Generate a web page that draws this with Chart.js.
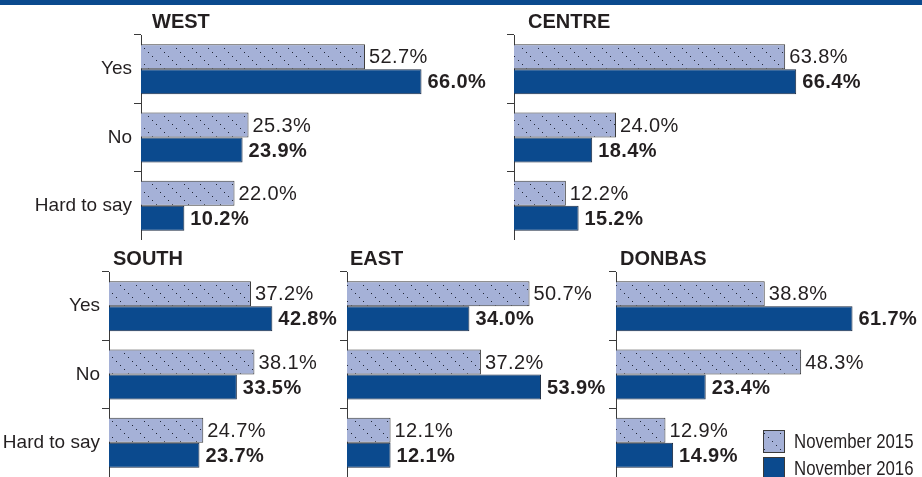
<!DOCTYPE html>
<html>
<head>
<meta charset="utf-8">
<script src="https://cdn.jsdelivr.net/npm/chart.js@4.4.0/dist/chart.umd.min.js"></script>
<style>
  body { margin: 0; background: #fff; width: 922px; height: 477px; overflow: hidden; position: relative; }
  #band { position: absolute; left: 0; top: 0; width: 922px; height: 5px; background: #0b4a8e; }
  canvas { position: absolute; }
</style>
</head>
<body>
<div id="band"></div>
<canvas id="west"></canvas>
<canvas id="centre"></canvas>
<canvas id="south"></canvas>
<canvas id="east"></canvas>
<canvas id="donbas"></canvas>
<script>
// données
const categories = ['Yes', 'No', 'Hard to say'];
const seriesNames = ['November 2015', 'November 2016'];

const west2015 = [52.7, 25.3, 22.0];
const west2016 = [66.0, 23.9, 10.2];
const centre2015 = [63.8, 24.0, 12.2];
const centre2016 = [66.4, 18.4, 15.2];
const south2015 = [37.2, 38.1, 24.7];
const south2016 = [42.8, 33.5, 23.7];
const east2015 = [50.7, 37.2, 12.1];
const east2016 = [34.0, 53.9, 12.1];
const donbas2015 = [38.8, 48.3, 12.9];
const donbas2016 = [61.7, 23.4, 14.9];

const DARK = '#231f20';
const BLUE = '#0b4a8e';
const LIGHT = '#a5b1d7';
const AXIS = '#3a3a3a';
const FONT = '"Liberation Sans", Arial, sans-serif';

// motif hachuré (lignes de points en diagonale)
function makeHatch() {
    const c = document.createElement('canvas');
    c.width = 16;
    c.height = 16;
    const g = c.getContext('2d');
    g.fillStyle = LIGHT;
    g.fillRect(0, 0, 16, 16);
    g.fillStyle = '#202535';
    for (let i = 0; i < 16; i += 4) g.fillRect(i, i, 1, 1);
    return g.createPattern(c, 'repeat');
}
const hatch = makeHatch();

// étiquettes de valeurs à droite des barres
const valueLabels = {
    id: 'valueLabels',
    afterDatasetsDraw(chart) {
        const ctx = chart.ctx;
        chart.data.datasets.forEach((ds, i) => {
            const meta = chart.getDatasetMeta(i);
            ctx.save();
            ctx.font = (i === 1 ? 'bold ' : '') + '20px ' + FONT;
            ctx.letterSpacing = '0.4px';
            ctx.fillStyle = DARK;
            ctx.textBaseline = 'middle';
            meta.data.forEach((bar, j) => {
                ctx.fillText(ds.data[j].toFixed(1) + '%', bar.x + (i === 1 ? 6 : 4), bar.y + 1);
            });
            ctx.restore();
        });
    }
};

// titre de région
const panelTitle = {
    id: 'panelTitle',
    afterDraw(chart, args, opts) {
        const ctx = chart.ctx;
        ctx.save();
        ctx.font = 'bold 20px ' + FONT;
        ctx.fillStyle = DARK;
        ctx.textBaseline = 'middle';
        ctx.fillText(opts.text, chart.chartArea.left + opts.dx, opts.y);
        ctx.restore();
    }
};

// légende (dans le panneau DONBAS), texte étroit comme l'original
const boxLegend = {
    id: 'boxLegend',
    afterDraw(chart, args, opts) {
        if (!opts.show) return;
        const ctx = chart.ctx;
        chart.data.datasets.forEach((ds, i) => {
            const y = opts.y + i * 27;
            ctx.save();
            ctx.fillStyle = ds.backgroundColor;
            ctx.fillRect(opts.x, y, 22, 23);
            ctx.strokeStyle = AXIS;
            ctx.lineWidth = 1;
            ctx.strokeRect(opts.x + 0.5, y + 0.5, 21, 22);
            ctx.fillStyle = DARK;
            ctx.font = '21px ' + FONT;
            ctx.textBaseline = 'middle';
            ctx.translate(opts.x + 31, y + 12);
            ctx.scale(0.8, 1);
            ctx.fillText(ds.label, 0, 0);
            ctx.restore();
        });
    }
};

function drawPanel(id, title, d2015, d2016, p) {
    const canvas = document.getElementById(id);
    canvas.width = p.axisW + p.xMax * p.scale + p.padRight;
    canvas.height = p.padTop + p.areaH;
    canvas.style.left = p.left + 'px';
    canvas.style.top = p.top + 'px';

    new Chart(canvas, {
        type: 'bar',
        data: {
            labels: categories,
            datasets: [{
                label: seriesNames[0],
                data: d2015,
                backgroundColor: hatch,
                borderColor: AXIS,
                borderWidth: 1
            }, {
                label: seriesNames[1],
                data: d2016,
                backgroundColor: BLUE,
                borderColor: '#1c2a40',
                borderWidth: 1
            }]
        },
        options: {
            indexAxis: 'y',
            responsive: false,
            animation: false,
            categoryPercentage: 0.732,
            barPercentage: 1,
            layout: { padding: { top: p.padTop, right: p.padRight, left: 0, bottom: 0 } },
            scales: {
                x: { display: false, min: 0, max: p.xMax },
                y: {
                    offset: true,
                    grid: { offset: true, drawOnChartArea: false, tickLength: 7, color: AXIS, lineWidth: 1 },
                    border: { display: true, color: AXIS, width: 1 },
                    ticks: { display: p.showLabels, padding: 2, color: DARK, font: { family: FONT, size: 19 } },
                    afterFit(scale) {
                        scale.width = p.axisW;
                        scale.paddingTop = 0;
                        scale.paddingBottom = 0;
                    }
                }
            },
            plugins: {
                legend: { display: false },
                tooltip: { enabled: false },
                panelTitle: { text: title, dx: p.titleDx, y: p.titleY },
                boxLegend: { show: !!p.legend, x: p.legendX, y: p.legendY }
            }
        },
        plugins: [valueLabels, panelTitle, boxLegend]
    });
}

drawPanel('west', 'WEST', west2015, west2016,
    { left: 0, top: 0, axisW: 141, scale: 4.26, xMax: 80, padRight: 30, padTop: 35, areaH: 205, showLabels: true, titleDx: 11, titleY: 22.5 });
drawPanel('centre', 'CENTRE', centre2015, centre2016,
    { left: 506, top: 0, axisW: 8, scale: 4.255, xMax: 80, padRight: 50, padTop: 35, areaH: 205, showLabels: false, titleDx: 14, titleY: 22.5 });
drawPanel('south', 'SOUTH', south2015, south2016,
    { left: 0, top: 245, axisW: 109, scale: 3.83, xMax: 60, padRight: 70, padTop: 27, areaH: 205, showLabels: true, titleDx: 4, titleY: 14.5 });
drawPanel('east', 'EAST', east2015, east2016,
    { left: 339, top: 245, axisW: 8, scale: 3.6, xMax: 60, padRight: 70, padTop: 27, areaH: 205, showLabels: false, titleDx: 3, titleY: 14.5 });
drawPanel('donbas', 'DONBAS', donbas2015, donbas2016,
    { left: 608, top: 245, axisW: 8, scale: 3.835, xMax: 78, padRight: 7, padTop: 27, areaH: 205, showLabels: false, titleDx: 4, titleY: 14.5,
      legend: true, legendX: 155, legendY: 185 });
</script>
</body>
</html>
